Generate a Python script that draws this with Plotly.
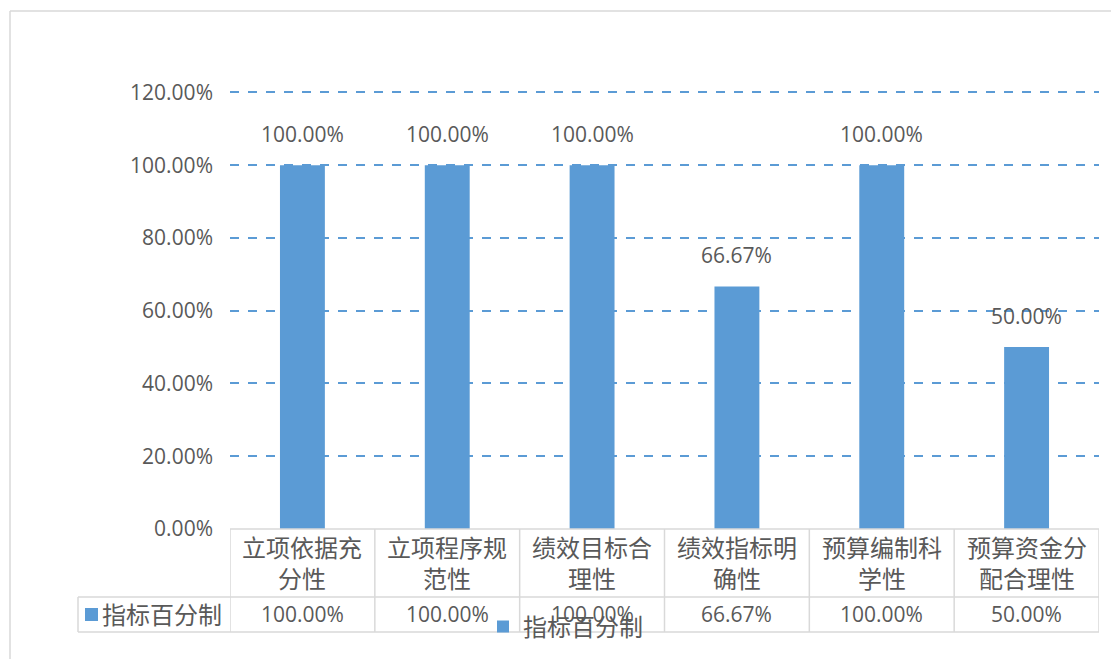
import plotly.graph_objects as go

categories = ["立项依据充分性", "立项程序规范性", "绩效目标合理性", "绩效指标明确性", "预算编制科学性", "预算资金分配合理性"]
cat_lines = ["立项依据充<br>分性", "立项程序规<br>范性", "绩效目标合<br>理性", "绩效指标明<br>确性", "预算编制科<br>学性", "预算资金分<br>配合理性"]
values = [1.0, 1.0, 1.0, 0.6667, 1.0, 0.5]
series_name = "指标百分制"
y_ticks = [0, 0.2, 0.4, 0.6, 0.8, 1.0, 1.2]

BLUE = "#5B9BD5"
GRAY_TXT = "#595959"
LINE = "#D9D9D9"
FONT = "Open Sans, Noto Sans CJK SC, sans-serif"

OFF = 8  # page body margin
Y_TOP = 1.215
W, H = 1119 - OFF, 659 - OFF
L = 230 - OFF
R = W - (1099 - OFF)
B = H - (529 - OFF)
ph_f = (529 - 92) * Y_TOP / 1.2
T = int(round(H - B - ph_f))
pw, ph = W - L - R, H - T - B

def px_x(p):
    return (p - OFF - L) / pw

def px_y(p):
    return (H - B - (p - OFF)) / ph

fig = go.Figure()
fig.add_trace(go.Bar(
    x=categories, y=values, name=series_name,
    marker=dict(color=BLUE, line=dict(width=0)),
    width=0.31, showlegend=True, hoverinfo="skip",
))

annotations = []
# data labels
for c, v in zip(categories, values):
    annotations.append(dict(x=c, y=v, xref="x", yref="y", text=f"{v:.2%}",
                            showarrow=False, yanchor="bottom", yshift=15,
                            font=dict(size=21, color=GRAY_TXT, family=FONT)))
# table: category row
for c, t in zip(categories, cat_lines):
    annotations.append(dict(x=c, y=px_y(563), xref="x", yref="paper", text=t,
                            showarrow=False, yanchor="middle", align="center",
                            font=dict(size=24, color=GRAY_TXT, family=FONT)))
# table: value row
for c, v in zip(categories, values):
    annotations.append(dict(x=c, y=px_y(614), xref="x", yref="paper", text=f"{v:.2%}",
                            showarrow=False, yanchor="middle",
                            font=dict(size=21, color=GRAY_TXT, family=FONT)))
# table: legend-key cell
annotations.append(dict(x=px_x(100), y=px_y(614), xref="paper", yref="paper", text=series_name,
                        showarrow=False, xanchor="left", yanchor="middle",
                        font=dict(size=24, color=GRAY_TXT, family=FONT)))

shapes = []
n = len(categories)
# outer chart border
shapes.append(dict(type="line", xref="paper", yref="paper", x0=px_x(10), x1=px_x(1130),
                   y0=px_y(11), y1=px_y(11), line=dict(color=LINE, width=1.5)))
shapes.append(dict(type="line", xref="paper", yref="paper", x0=px_x(10), x1=px_x(10),
                   y0=px_y(11), y1=px_y(670), line=dict(color=LINE, width=1.5)))
# horizontal table lines
shapes.append(dict(type="line", xref="x", yref="paper", x0=-0.5, x1=n - 0.5,
                   y0=0, y1=0, line=dict(color=LINE, width=1.5), layer="above"))
for yy in (597, 632):
    shapes.append(dict(type="line", xref="paper", yref="paper", x0=px_x(78), x1=1,
                       y0=px_y(yy), y1=px_y(yy), line=dict(color=LINE, width=1.5)))
# vertical table lines
for i in range(n + 1):
    shapes.append(dict(type="line", xref="x", yref="paper", x0=i - 0.5, x1=i - 0.5,
                       y0=0, y1=px_y(632), line=dict(color=LINE, width=1.5)))
shapes.append(dict(type="line", xref="paper", yref="paper", x0=px_x(78), x1=px_x(78),
                   y0=px_y(597), y1=px_y(632), line=dict(color=LINE, width=1.5)))
# legend key square in table
shapes.append(dict(type="rect", xref="paper", yref="paper", x0=px_x(85), x1=px_x(98),
                   y0=px_y(621), y1=px_y(608), fillcolor=BLUE, line=dict(width=0)))

fig.update_layout(
    width=W, height=H,
    margin=dict(l=L, r=R, t=T, b=B, autoexpand=False),
    paper_bgcolor="white", plot_bgcolor="white",
    font=dict(family=FONT, color=GRAY_TXT),
    xaxis=dict(showticklabels=False, showgrid=False, zeroline=False, showline=False,
               range=[-0.5, n - 0.5]),
    yaxis=dict(range=[0, Y_TOP], tickvals=y_ticks, tickformat=".2%",
               showgrid=True, gridcolor=BLUE, gridwidth=1.5, griddash="dash",
               zeroline=False, showline=False, ticks="", ticklabelstandoff=16,
               tickfont=dict(size=21, color=GRAY_TXT, family=FONT)),
    legend=dict(orientation="h", x=px_x(483), y=px_y(627), xanchor="left", yanchor="middle",
                font=dict(size=24, color=GRAY_TXT, family=FONT), bgcolor="rgba(0,0,0,0)",
                itemwidth=30),
    annotations=annotations,
    shapes=shapes,
)

fig.write_html("out.html")
